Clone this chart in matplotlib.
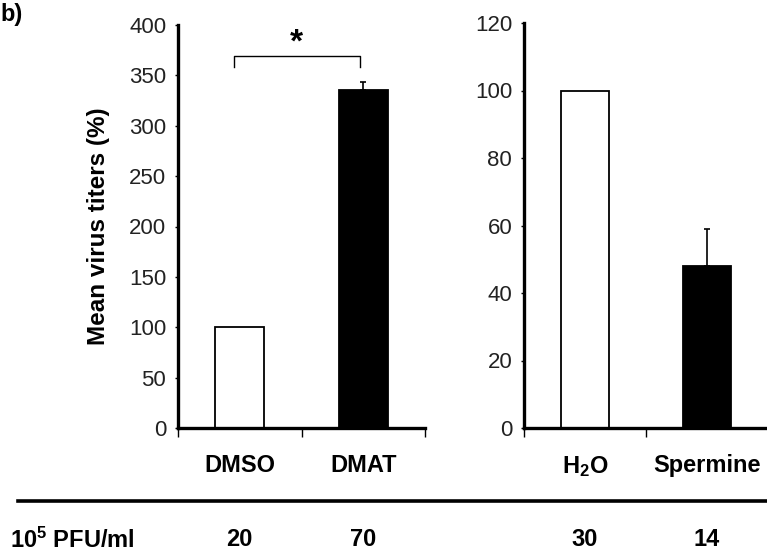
import matplotlib
matplotlib.use("Agg")
import matplotlib.pyplot as plt
from matplotlib.lines import Line2D
from matplotlib.transforms import blended_transform_factory

plt.rcParams['font.family'] = ['Liberation Sans', 'DejaVu Sans']
plt.rcParams['mathtext.fontset'] = 'custom'
plt.rcParams['mathtext.rm'] = 'Liberation Sans:bold'
plt.rcParams['mathtext.it'] = 'Liberation Sans:bold'
plt.rcParams['mathtext.bf'] = 'Liberation Sans:bold'

# data
left_cats = ['DMSO', 'DMAT']
left_vals = [100, 335]
left_err = [0, 8]
left_pfu = ['20', '70']

right_cats = ['H$_2$O', 'Spermine']
right_vals = [100, 48]
right_err = [0, 11]
right_pfu = ['30', '14']

bar_colors = ['white', 'black']
left_ticks = [0, 50, 100, 150, 200, 250, 300, 350, 400]
right_ticks = [0, 20, 40, 60, 80, 100, 120]

W, H = 767, 552
fig = plt.figure(figsize=(W / 100, H / 100), dpi=100)

ax1 = fig.add_axes([178 / W, 1 - 428 / H, 247 / W, 403 / H])
ax2 = fig.add_axes([524 / W, 1 - 428 / H, 244 / W, 405 / H])


def style_panel(ax, cats, vals, err, ticks):
    x = range(len(cats))
    ax.bar(x, vals, width=0.4, color=bar_colors, edgecolor='black', linewidth=1.3, zorder=2)
    for xi, v, e in zip(x, vals, err):
        if e > 0:
            ax.errorbar(xi, v, yerr=[[0], [e]], fmt='none', ecolor='black',
                        elinewidth=1.2, capsize=2.5, capthick=1.2, zorder=3)
    ax.set_xlim(-0.5, len(cats) - 0.5)
    ax.set_ylim(ticks[0], ticks[-1])
    ax.set_yticks(ticks)
    ax.set_yticklabels([str(t) for t in ticks], fontsize=16, color='#222222')
    ax.set_xticks(list(x))
    ax.set_xticklabels(cats, fontsize=17, fontweight='bold')
    ax.set_xticks([i - 0.5 for i in range(len(cats) + 1)], minor=True)
    ax.tick_params(axis='x', which='major', length=0, pad=19)
    ax.tick_params(axis='x', which='minor', length=6.5, width=1.0, direction='out')
    ax.tick_params(axis='y', length=2.5, width=1.0, pad=6)
    for s in ['top', 'right']:
        ax.spines[s].set_visible(False)
    ax.spines['left'].set_linewidth(2.4)
    ax.spines['bottom'].set_linewidth(2.4)
    ax.spines['bottom'].set_capstyle('projecting')


style_panel(ax1, left_cats, left_vals, left_err, left_ticks)
style_panel(ax2, right_cats, right_vals, right_err, right_ticks)

ax1.set_ylabel('Mean virus titers (%)', fontsize=17.5, fontweight='bold', labelpad=14)

# significance bracket
ax1.plot([-0.05, -0.05, 0.97, 0.97], [358, 369, 369, 358], color='black', lw=1.0,
         clip_on=False)
ax1.text(0.46, 382, '*', ha='center', va='center', fontsize=24, fontweight='bold')

# panel label
fig.text(0.0, 1 - 15 / H, 'b)', fontsize=17, fontweight='bold', ha='left', va='center')

# bottom table
fig.add_artist(Line2D([18 / W, 1.0], [1 - 501 / H] * 2, color='black', lw=2.6))
fig.text(10 / W, 1 - 540 / H, '10$^5$ PFU/ml', fontsize=17, fontweight='bold',
         ha='left', va='center')
for ax, pfu in [(ax1, left_pfu), (ax2, right_pfu)]:
    tr = blended_transform_factory(ax.transData, fig.transFigure)
    for i, p in enumerate(pfu):
        ax.text(i, 1 - 540 / H, p, transform=tr, fontsize=17, fontweight='bold',
                ha='center', va='center')

fig.savefig('out.png', dpi=100)
